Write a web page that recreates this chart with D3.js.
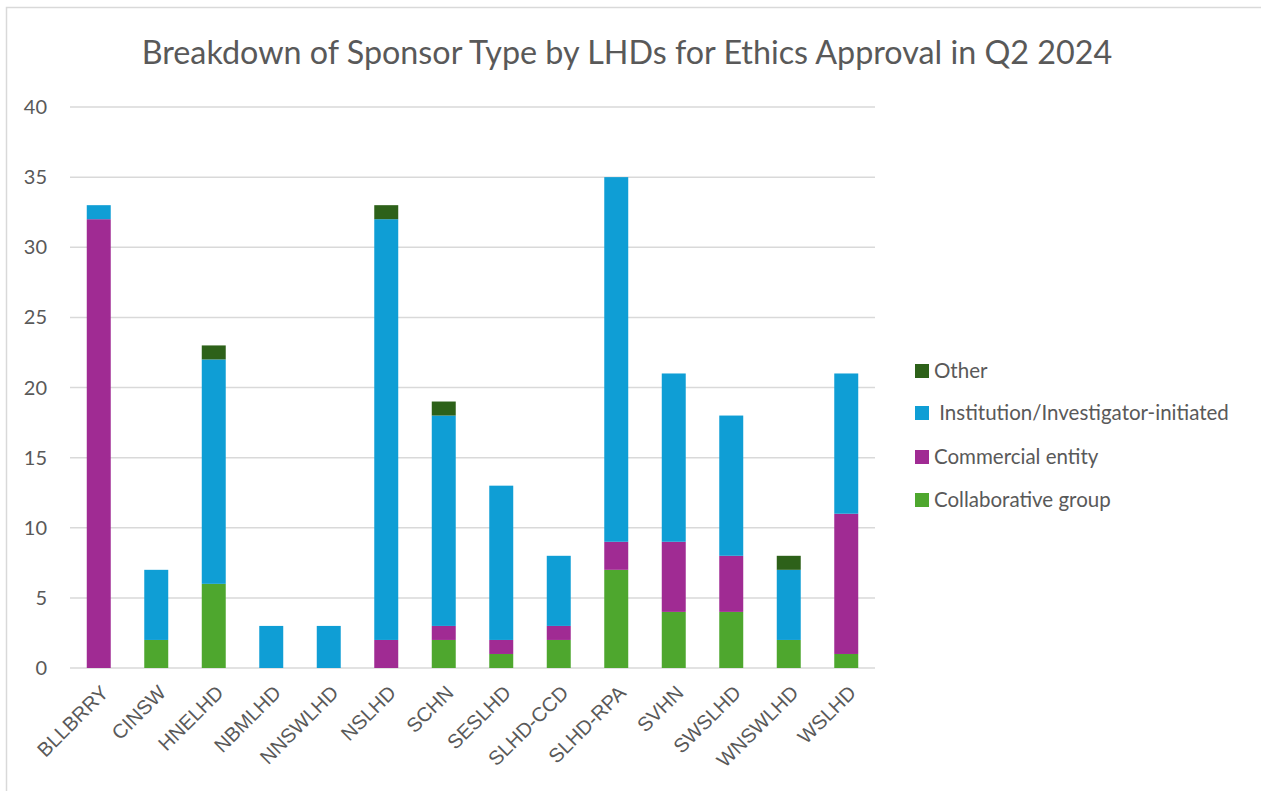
<!DOCTYPE html>
<html><head><meta charset="utf-8">
<script src="https://cdn.jsdelivr.net/npm/d3@7"></script>
<style>body{margin:0;background:#fff}svg{display:block}</style>
</head><body>
<svg id="c" width="1261" height="791"></svg>
<script>
const categories = ["BLLBRRY","CINSW","HNELHD","NBMLHD","NNSWLHD","NSLHD","SCHN","SESLHD","SLHD-CCD","SLHD-RPA","SVHN","SWSLHD","WNSWLHD","WSLHD"];
const collaborative = [0,2,6,0,0,0,2,1,2,7,4,4,2,1];
const commercial    = [32,0,0,0,0,2,1,1,1,2,5,4,0,10];
const institution   = [1,5,16,3,3,30,15,11,5,26,12,10,5,10];
const other         = [0,0,1,0,0,1,1,0,0,0,0,0,1,0];
const seriesNames = ["Collaborative group","Commercial entity"," Institution/Investigator-initiated","Other"];
const seriesColors = ["#4ea72e","#a02b93","#0f9ed5","#2d6119"];
const yTicks = [0,5,10,15,20,25,30,35,40];
const title = "Breakdown of Sponsor Type by LHDs for Ethics Approval in Q2 2024";

const svg = d3.select("#c");
const grey = "#595959";
svg.append("rect").attr("x",6.5).attr("y",7.5).attr("width",1300).attr("height",900)
  .attr("fill","none").attr("stroke","#d9d9d9").attr("stroke-width",1.5);

const x = d3.scaleBand().domain(categories).range([70,875]).paddingInner(0.583).paddingOuter(0.2915);
const y = d3.scaleLinear().domain([0,40]).range([668,107]);

svg.append("g").selectAll("line").data(yTicks).join("line")
  .attr("x1",70).attr("x2",875).attr("y1",d=>y(d)).attr("y2",d=>y(d))
  .attr("stroke","#d9d9d9").attr("stroke-width",1.5);

svg.append("g").selectAll("text").data(yTicks).join("text")
  .attr("x",47).attr("y",d=>y(d)).attr("dy","0.35em").attr("text-anchor","end")
  .attr("font-family","Lato, 'Open Sans', sans-serif").attr("font-size",20).attr("fill",grey)
  .text(d=>d);

const table = categories.map((c,i)=>({cat:c, s0:collaborative[i], s1:commercial[i], s2:institution[i], s3:other[i]}));
const stack = d3.stack().keys(["s0","s1","s2","s3"])(table);
svg.append("g").selectAll("g").data(stack).join("g").attr("fill",(d,i)=>seriesColors[i])
  .selectAll("rect").data(d=>d).join("rect")
  .attr("x",d=>x(d.data.cat)).attr("width",x.bandwidth())
  .attr("y",d=>y(d[1])).attr("height",d=>y(d[0])-y(d[1]));

svg.append("g").selectAll("text").data(categories).join("text")
  .attr("transform",d=>`translate(${x(d)+x.bandwidth()/2+6},${689}) rotate(-45)`)
  .attr("text-anchor","end").attr("dy","0.35em")
  .attr("font-family","'Liberation Sans', Arial, sans-serif").attr("font-size",20).attr("fill",grey)
  .text(d=>d);

svg.append("text").attr("x",627).attr("y",64).attr("text-anchor","middle")
  .attr("font-family","Lato, 'Open Sans', sans-serif").attr("font-size",32.3).attr("fill",grey)
  .text(title);

const legendOrder = [3,2,1,0];
const ly = [371,413,457,500];
const lg = svg.append("g").selectAll("g").data(legendOrder).join("g")
  .attr("transform",(d,i)=>`translate(915,${ly[i]})`);
lg.append("rect").attr("x",0).attr("y",-7).attr("width",14).attr("height",14).attr("fill",d=>seriesColors[d]);
lg.append("text").attr("x",19).attr("y",0).attr("dy","0.35em")
  .attr("font-family","Lato, 'Open Sans', sans-serif").attr("font-size",20.5).attr("fill",grey)
  .attr("xml:space","preserve").style("white-space","pre")
  .text(d=>seriesNames[d]);
</script>
</body></html>
